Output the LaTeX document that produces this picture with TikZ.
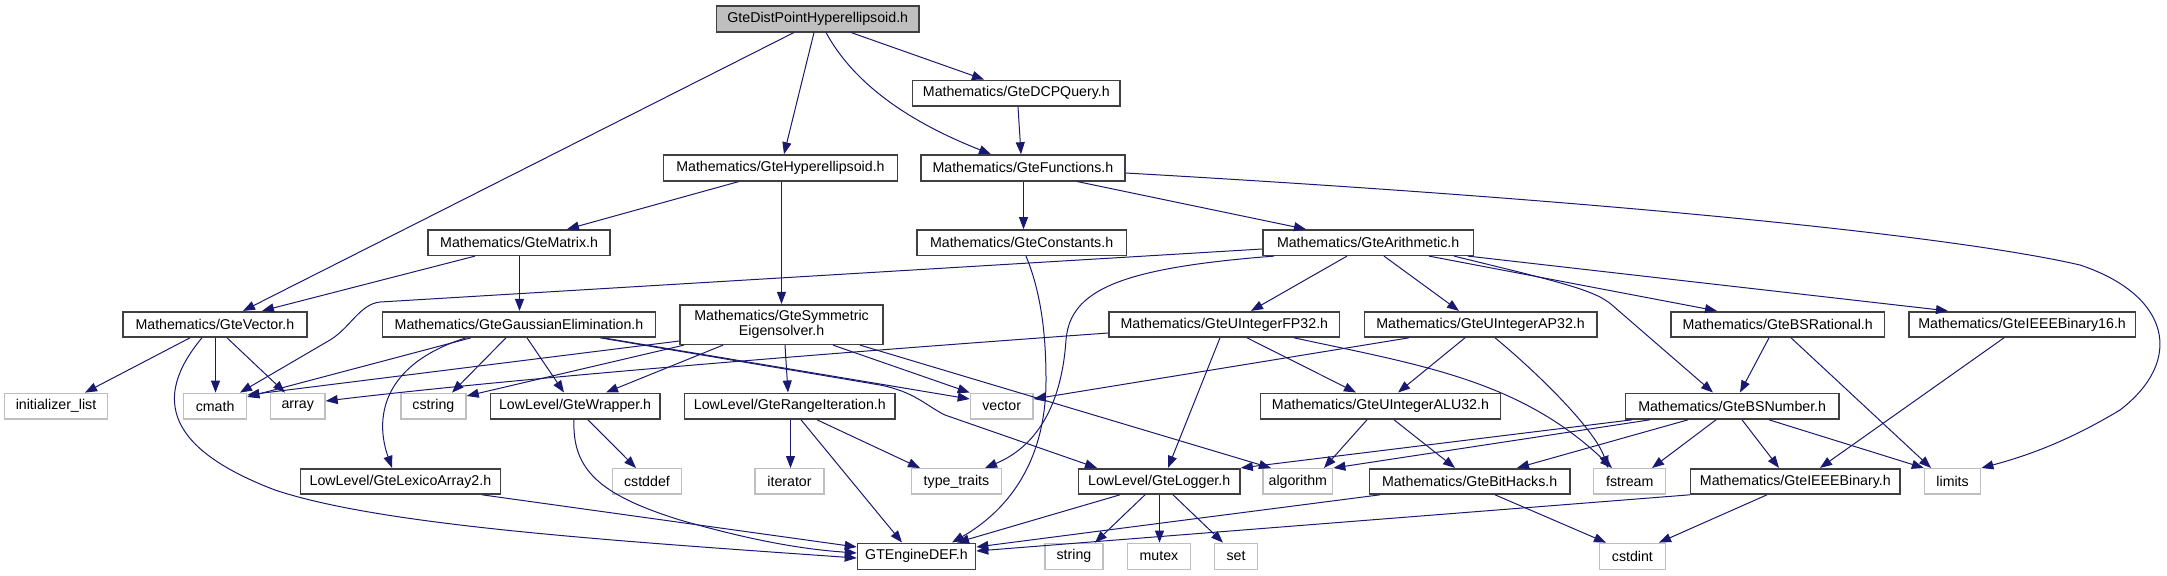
\documentclass[tikz,border=0pt]{standalone}
\usepackage{fontspec}
\setmainfont{Liberation Sans}
\usetikzlibrary{arrows.meta}
\definecolor{edgecol}{HTML}{191970}
\definecolor{boxdark}{HTML}{404040}
\definecolor{boxlight}{HTML}{BFBFBF}
\newcommand\gnode[7]{\node[#6, minimum width={(#3-#2)*0.5pt}, minimum height={(#5-#4)*0.5pt}] (#1) at ({(#2+#3)/2},{(#4+#5)/2}) {#7};}
\begin{document}
\begin{tikzpicture}[x=0.5pt,y=-0.5pt,
  docbox/.style={draw=boxdark, line width=0.8pt, fill=white, inner sep=0pt, font=\fontsize{7.1pt}{7.3pt}\selectfont, align=center},
  extbox/.style={draw=boxlight, line width=0.7pt, fill=white, inner sep=0pt, font=\fontsize{7.1pt}{7.3pt}\selectfont},
  rootbox/.style={docbox, fill=boxlight},
  dep/.style={draw=edgecol, line width=0.5pt, -{Triangle[length=6pt,width=4.5pt]}}]
\useasboundingbox (0,0) rectangle (2167,575);
% nodes
\gnode{root}{716.5}{919}{5.7}{31.7}{rootbox}{GteDistPointHyperellipsoid.h}
\gnode{dcp}{912.6}{1120}{80.3}{106}{docbox}{Mathematics/GteDCPQuery.h}
\gnode{hyp}{663.5}{897.4}{155}{180.7}{docbox}{Mathematics/GteHyperellipsoid.h}
\gnode{fun}{920.8}{1125}{155}{180.7}{docbox}{Mathematics/GteFunctions.h}
\gnode{mat}{428}{610.2}{230}{255.3}{docbox}{Mathematics/GteMatrix.h}
\gnode{con}{916.7}{1126.5}{230}{255.3}{docbox}{Mathematics/GteConstants.h}
\gnode{ari}{1262.9}{1473.4}{230}{255.3}{docbox}{Mathematics/GteArithmetic.h}
\gnode{vec}{123}{306.7}{311.7}{337}{docbox}{Mathematics/GteVector.h}
\gnode{gau}{382.5}{655.6}{311.7}{337}{docbox}{Mathematics/GteGaussianElimination.h}
\gnode{sym}{680}{883.2}{304.7}{344.3}{docbox}{Mathematics/GteSymmetric\\Eigensolver.h}
\gnode{fp32}{1109}{1339.6}{311.7}{337}{docbox}{Mathematics/GteUIntegerFP32.h}
\gnode{ap32}{1364.4}{1596.7}{311.7}{337}{docbox}{Mathematics/GteUIntegerAP32.h}
\gnode{bsr}{1671}{1884.3}{311.7}{337}{docbox}{Mathematics/GteBSRational.h}
\gnode{ie16}{1908.8}{2135.3}{311.7}{337}{docbox}{Mathematics/GteIEEEBinary16.h}
\gnode{ini}{4.6}{107.4}{393.3}{419}{extbox}{initializer\_list}
\gnode{cmath}{183.7}{246.6}{393.3}{419}{extbox}{cmath}
\gnode{array}{270.4}{325}{393.3}{419}{extbox}{array}
\gnode{cstring}{400.8}{466}{393.3}{419}{extbox}{cstring}
\gnode{wrap}{490.4}{659.8}{393.3}{419}{docbox}{LowLevel/GteWrapper.h}
\gnode{rng}{684.6}{895.1}{393.3}{419}{docbox}{LowLevel/GteRangeIteration.h}
\gnode{vector}{970.4}{1032.9}{393.3}{419}{extbox}{vector}
\gnode{alu}{1260.6}{1500.3}{393.3}{419}{docbox}{Mathematics/GteUIntegerALU32.h}
\gnode{bsn}{1625.5}{1838.8}{393.3}{419}{docbox}{Mathematics/GteBSNumber.h}
\gnode{lex}{300.3}{500.5}{468.7}{494}{docbox}{LowLevel/GteLexicoArray2.h}
\gnode{cstddef}{612.5}{681.4}{468.7}{494}{extbox}{cstddef}
\gnode{iter}{755}{824}{468.7}{494}{extbox}{iterator}
\gnode{tt}{911.2}{1001.7}{468.7}{494}{extbox}{type\_traits}
\gnode{log}{1078.3}{1240}{468.7}{494}{docbox}{LowLevel/GteLogger.h}
\gnode{alg}{1262.9}{1332.7}{468.7}{494}{extbox}{algorithm}
\gnode{bit}{1369.4}{1569.8}{468.7}{494}{docbox}{Mathematics/GteBitHacks.h}
\gnode{fst}{1593.7}{1665.7}{468.7}{494}{extbox}{fstream}
\gnode{ieee}{1690.6}{1900}{468.7}{494}{docbox}{Mathematics/GteIEEEBinary.h}
\gnode{lim}{1924.5}{1980.7}{468.7}{494}{extbox}{limits}
\gnode{def}{857.5}{975.5}{543.3}{569.3}{docbox}{GTEngineDEF.h}
\gnode{str}{1044.8}{1103.1}{543.3}{569.3}{extbox}{string}
\gnode{mtx}{1127.5}{1190.4}{543.3}{569.3}{extbox}{mutex}
\gnode{set}{1214.7}{1257.4}{543.3}{569.3}{extbox}{set}
\gnode{cstdint}{1599.6}{1665.2}{543.3}{569.3}{extbox}{cstdint}
% edges
\draw[dep] (root.south -| 794,0) -- (vec.north -| 243,0);
\draw[dep] (root.south -| 814,0) -- (hyp.north -| 784,0);
\draw[dep] (root.south -| 826,0) .. controls (860,95) and (930,130) .. (fun.north -| 991,0);
\draw[dep] (root.south -| 851,0) -- (dcp.north -| 984,0);
\draw[dep] (dcp.south -| 1018,0) -- (fun.north -| 1021,0);
\draw[dep] (hyp.south -| 739,0) -- (mat.north -| 567,0);
\draw[dep] (hyp.south -| 781.5,0) -- (sym.north -| 781.5,0);
\draw[dep] (fun.south -| 1023.5,0) -- (con.north -| 1023.5,0);
\draw[dep] (fun.south -| 1077,0) -- (ari.north -| 1306,0);
\draw[dep] (fun.east |- 0,173) .. controls (1600,200) and (1950,235) .. (2080,265) .. controls (2170,295) and (2185,360) .. (2120,410) .. controls (2070,440) and (2030,455) .. (lim.north east);
\draw[dep] (mat.south -| 475,0) -- (vec.north -| 262,0);
\draw[dep] (mat.south -| 519.5,0) -- (gau.north -| 519.5,0);
\draw[dep] (con.south -| 1026,0) .. controls (1040,290) and (1046,330) .. (1046,380) .. controls (1046,470) and (1000,515) .. (def.north -| 952,0);
\draw[dep] (ari.west |- 0,249) -- (380,302) .. controls (360,304) and (350,328) .. (330,340) -- (cmath.north -| 240,0);
\draw[dep] (ari.south -| 1274,0) .. controls (1120,268) and (1070,290) .. (1066,340) .. controls (1062,400) and (1040,445) .. (tt.north -| 985,0);
\draw[dep] (ari.south -| 1347,0) -- (fp32.north -| 1251,0);
\draw[dep] (ari.south -| 1384,0) -- (ap32.north -| 1459,0);
\draw[dep] (ari.south -| 1454,0) .. controls (1560,282) and (1595,290) .. (1612,305) -- (bsn.north -| 1713,0);
\draw[dep] (ari.south -| 1429,0) -- (bsr.north -| 1717,0);
\draw[dep] (ari.south -| 1468,0) -- (ie16.north -| 1948,0);
\draw[dep] (vec.south -| 190,0) -- (ini.north -| 85,0);
\draw[dep] (vec.south -| 215.5,0) -- (cmath.north -| 215.5,0);
\draw[dep] (vec.south -| 227,0) -- (array.north -| 285,0);
\draw[dep] (vec.south -| 202,0) .. controls (150,400) and (170,450) .. (275,490) .. controls (380,525) and (600,540) .. (def.west |- 0,558);
\draw[dep] (gau.south -| 471,0) -- (cmath.east |- 0,397);
\draw[dep] (gau.south -| 506,0) -- (cstring.north -| 452,0);
\draw[dep] (gau.south -| 527,0) -- (wrap.north -| 564,0);
\draw[dep] (gau.south -| 466,0) .. controls (380,365) and (375,420) .. (lex.north -| 392,0);
\draw[dep] (gau.south -| 603,0) -- (vector.west |- 0,399);
\draw[dep] (gau.south -| 600,0) -- (880,385) .. controls (915,392) and (925,405) .. (945,415) -- (log.north -| 1097,0);
\draw[dep] (sym.west |- 0,341) -- (cmath.east |- 0,395);
\draw[dep] (sym.south -| 684,0) -- (cstring.east |- 0,396);
\draw[dep] (sym.south -| 723,0) -- (wrap.north -| 606,0);
\draw[dep] (sym.south -| 785,0) -- (rng.north -| 788,0);
\draw[dep] (sym.south -| 833,0) -- (vector.north west);
\draw[dep] (sym.south -| 860,0) -- (alg.north -| 1271,0);
\draw[dep] (wrap.south -| 574,0) .. controls (572,470) and (600,495) .. (680,520) .. controls (750,540) and (800,549) .. (def.west |- 0,553);
\draw[dep] (wrap.south -| 588,0) -- (cstddef.north -| 636,0);
\draw[dep] (lex.south -| 482,0) -- (def.west |- 0,547);
\draw[dep] (rng.south -| 790.5,0) -- (iter.north -| 790.5,0);
\draw[dep] (rng.south -| 801,0) -- (def.north -| 902,0);
\draw[dep] (rng.south -| 817,0) -- (tt.north -| 920,0);
\draw[dep] (log.south -| 1120,0) -- (def.north -| 957,0);
\draw[dep] (log.south -| 1145,0) -- (str.north -| 1095,0);
\draw[dep] (log.south -| 1159.5,0) -- (mtx.north -| 1159.5,0);
\draw[dep] (log.south -| 1173,0) -- (set.north -| 1223,0);
\draw[dep] (fp32.west |- 0,333) .. controls (800,355) and (500,380) .. (array.east |- 0,401);
\draw[dep] (fp32.south -| 1220,0) -- (log.north -| 1168,0);
\draw[dep] (fp32.south -| 1247,0) -- (alu.north -| 1356,0);
\draw[dep] (fp32.south -| 1294,0) .. controls (1420,365) and (1520,380) .. (fst.north -| 1612,0);
\draw[dep] (ap32.south -| 1409,0) -- (vector.east |- 0,399);
\draw[dep] (ap32.south -| 1465,0) -- (alu.north -| 1398,0);
\draw[dep] (ap32.south -| 1495,0) .. controls (1540,375) and (1595,430) .. (fst.north -| 1608,0);
\draw[dep] (alu.south -| 1367,0) -- (alg.north -| 1324,0);
\draw[dep] (alu.south -| 1394,0) -- (bit.north -| 1455,0);
\draw[dep] (bsn.south -| 1632,0) -- (log.north east);
\draw[dep] (bsn.south -| 1650,0) -- (alg.north east);
\draw[dep] (bsn.south -| 1688,0) -- (bit.north -| 1517,0);
\draw[dep] (bsn.south -| 1716,0) -- (fst.north -| 1652,0);
\draw[dep] (bsn.south -| 1742,0) -- (ieee.north -| 1779,0);
\draw[dep] (bsn.south -| 1769,0) -- (lim.north west);
\draw[dep] (bsr.south -| 1769,0) -- (bsn.north -| 1740,0);
\draw[dep] (bsr.south -| 1791,0) -- (lim.north -| 1931,0);
\draw[dep] (ie16.south -| 2004,0) -- (ieee.north -| 1820,0);
\draw[dep] (ieee.south -| 1767,0) -- (cstdint.north -| 1659,0);
\draw[dep] (ieee.south west) -- (def.east |- 0,551);
\draw[dep] (bit.south -| 1495,0) -- (cstdint.north -| 1606,0);
\draw[dep] (bit.south -| 1380,0) -- (def.east |- 0,547);
\end{tikzpicture}
\end{document}
